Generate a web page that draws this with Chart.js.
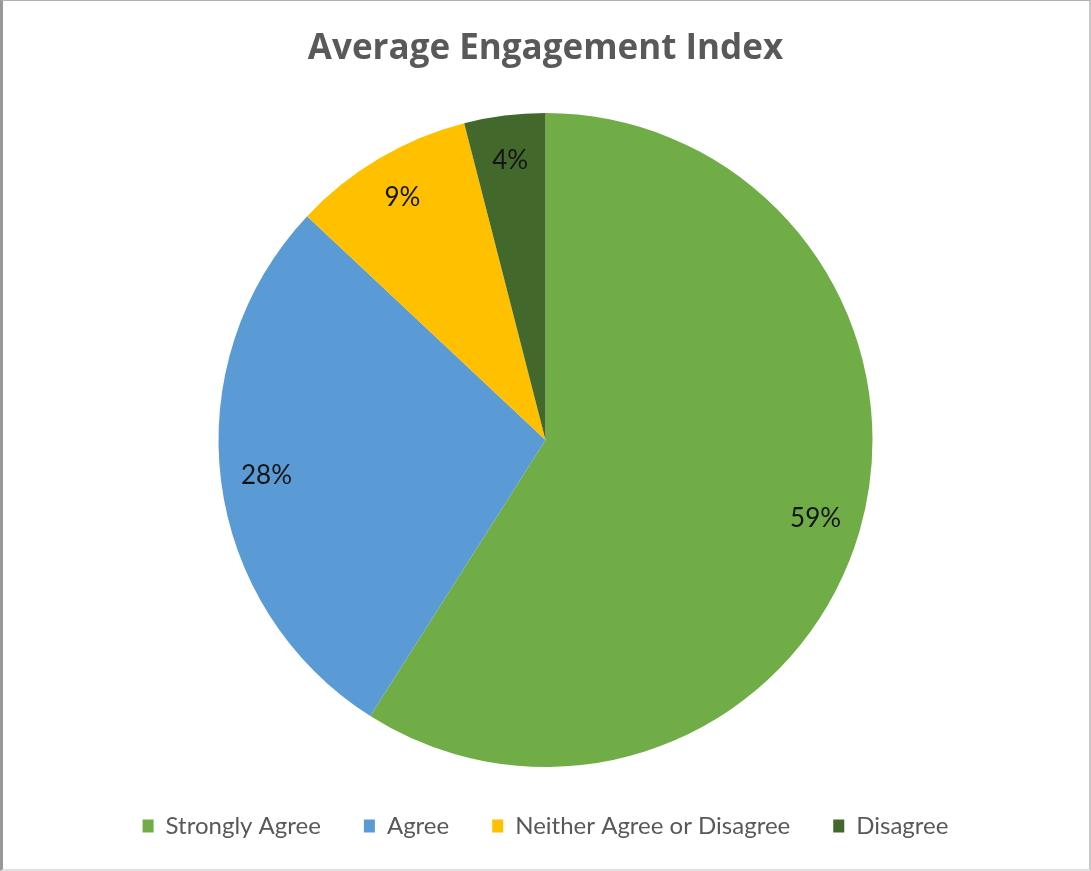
<!DOCTYPE html>
<html lang="en">
<head>
    <meta charset="UTF-8">
    <title>Average Engagement Index</title>
    <script src="https://cdn.jsdelivr.net/npm/chart.js"></script>
    <style>
        body {
            margin: 0;
            padding: 0;
            background-color: #ffffff;
        }

        .frame {
            position: relative;
            width: 1091px;
            height: 871px;
            box-sizing: border-box;
            border-top: 1px solid #b0b0b0;
            border-left: 3px solid #999999;
            border-right: 2px solid #c8c8c8;
            border-bottom: 2px solid #e0e0e0;
        }

        .frame canvas {
            position: absolute;
            left: -3px;
            top: -1px;
        }
    </style>
</head>
<body>

    <div class="frame" id="frame">
        <canvas id="myChart" width="1091" height="871"></canvas>
    </div>

    <script>
        const labels = ['Strongly Agree', 'Agree', 'Neither Agree or Disagree', 'Disagree'];
        const percents = [59, 28, 9, 4];
        const colors = ['#70ad47', '#5b9bd5', '#ffc000', '#43682b'];

        // writes the percentage near the outer edge of each slice
        const sliceLabels = {
            id: 'sliceLabels',
            afterDatasetsDraw(chart) {
                const ctx = chart.ctx;
                const meta = chart.getDatasetMeta(0);
                ctx.save();
                ctx.font = '26px Lato';
                ctx.fillStyle = '#141414';
                ctx.textAlign = 'center';
                ctx.textBaseline = 'middle';
                meta.data.forEach((arc, i) => {
                    const p = arc.getProps(['x', 'y', 'startAngle', 'endAngle', 'outerRadius'], true);
                    const mid = (p.startAngle + p.endAngle) / 2;
                    const r = p.outerRadius * 0.86;
                    ctx.fillText(percents[i] + '%', p.x + Math.cos(mid) * r, p.y + Math.sin(mid) * r);
                });
                ctx.restore();
            }
        };

        const ctx = document.getElementById('myChart').getContext('2d');
        new Chart(ctx, {
            type: 'pie',
            data: {
                labels: labels,
                datasets: [{
                    data: percents,
                    backgroundColor: colors,
                    borderWidth: 0
                }]
            },
            options: {
                responsive: false,
                animation: false,
                radius: 327,
                layout: {
                    padding: { top: 0, bottom: 23, left: 0, right: 0 }
                },
                plugins: {
                    title: {
                        display: true,
                        text: 'Average Engagement Index',
                        color: '#595959',
                        font: { family: 'Open Sans', size: 35, weight: 'bold' },
                        padding: { top: 28, bottom: 39 }
                    },
                    legend: {
                        position: 'bottom',
                        labels: {
                            color: '#595959',
                            font: { family: 'Lato', size: 24 },
                            boxWidth: 11,
                            boxHeight: 13,
                            padding: 43
                        }
                    },
                    tooltip: { enabled: false }
                }
            },
            plugins: [sliceLabels]
        });
    </script>
</body>
</html>
